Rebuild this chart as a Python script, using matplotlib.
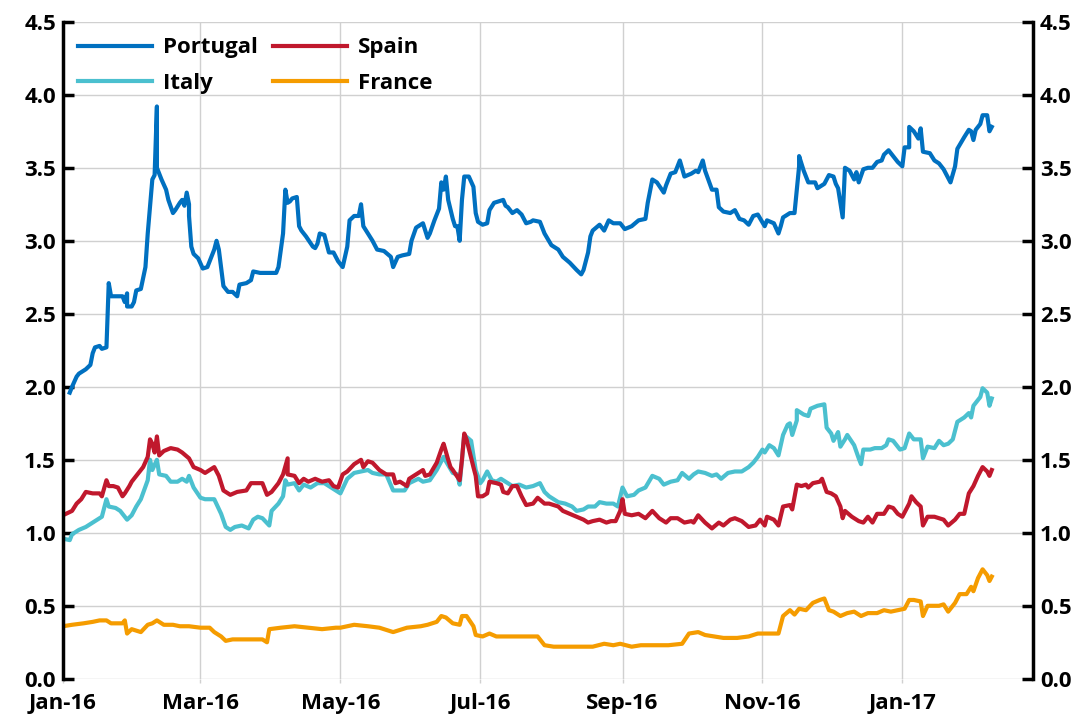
import numpy as np
import pandas as pd
import matplotlib
matplotlib.use("Agg")
import matplotlib.pyplot as plt
import matplotlib.dates as mdates

# 10-year spreads vs Germany (pp)
port_dates = ['2016-01-04', '2016-01-05', '2016-01-07', '2016-01-08', '2016-01-11', '2016-01-13', '2016-01-14',
              '2016-01-15', '2016-01-17', '2016-01-18', '2016-01-20', '2016-01-21', '2016-01-22', '2016-01-25',
              '2016-01-27', '2016-01-28', '2016-01-29', '2016-01-29', '2016-01-31', '2016-02-01', '2016-02-02',
              '2016-02-04', '2016-02-06', '2016-02-07', '2016-02-09', '2016-02-10', '2016-02-11', '2016-02-11',
              '2016-02-13', '2016-02-15', '2016-02-16', '2016-02-18', '2016-02-19', '2016-02-21', '2016-02-22',
              '2016-02-23', '2016-02-24', '2016-02-25', '2016-02-25', '2016-02-26', '2016-02-27', '2016-02-29',
              '2016-03-02', '2016-03-04', '2016-03-05', '2016-03-07', '2016-03-08', '2016-03-09', '2016-03-11',
              '2016-03-13', '2016-03-15', '2016-03-17', '2016-03-18', '2016-03-21', '2016-03-23', '2016-03-24',
              '2016-03-27', '2016-04-03', '2016-04-04', '2016-04-06', '2016-04-07', '2016-04-08', '2016-04-09',
              '2016-04-10', '2016-04-12', '2016-04-13', '2016-04-14', '2016-04-16', '2016-04-19', '2016-04-20',
              '2016-04-21', '2016-04-22', '2016-04-24', '2016-04-26', '2016-04-28', '2016-04-30', '2016-05-02',
              '2016-05-04', '2016-05-05', '2016-05-07', '2016-05-09', '2016-05-10', '2016-05-11', '2016-05-13',
              '2016-05-15', '2016-05-17', '2016-05-20', '2016-05-23', '2016-05-24', '2016-05-26', '2016-05-28',
              '2016-05-31', '2016-06-01', '2016-06-03', '2016-06-05', '2016-06-06', '2016-06-08', '2016-06-09',
              '2016-06-11', '2016-06-13', '2016-06-14', '2016-06-15', '2016-06-16', '2016-06-17', '2016-06-19',
              '2016-06-20', '2016-06-21', '2016-06-22', '2016-06-23', '2016-06-24', '2016-06-26', '2016-06-28',
              '2016-06-29', '2016-06-30', '2016-07-02', '2016-07-04', '2016-07-05', '2016-07-07', '2016-07-11',
              '2016-07-12', '2016-07-13', '2016-07-15', '2016-07-17', '2016-07-19', '2016-07-21', '2016-07-23',
              '2016-07-24', '2016-07-27', '2016-07-29', '2016-08-01', '2016-08-04', '2016-08-06', '2016-08-09',
              '2016-08-12', '2016-08-14', '2016-08-15', '2016-08-17', '2016-08-18', '2016-08-19', '2016-08-22',
              '2016-08-24', '2016-08-26', '2016-08-28', '2016-08-31', '2016-09-02', '2016-09-05', '2016-09-08',
              '2016-09-11', '2016-09-12', '2016-09-14', '2016-09-16', '2016-09-19', '2016-09-20', '2016-09-22',
              '2016-09-24', '2016-09-26', '2016-09-28', '2016-10-01', '2016-10-03', '2016-10-04', '2016-10-06',
              '2016-10-07', '2016-10-10', '2016-10-12', '2016-10-13', '2016-10-15', '2016-10-18', '2016-10-20',
              '2016-10-22', '2016-10-24', '2016-10-26', '2016-10-28', '2016-10-30', '2016-11-02', '2016-11-03',
              '2016-11-06', '2016-11-08', '2016-11-09', '2016-11-10', '2016-11-13', '2016-11-15', '2016-11-17',
              '2016-11-17', '2016-11-19', '2016-11-21', '2016-11-24', '2016-11-25', '2016-11-27', '2016-11-28',
              '2016-11-30', '2016-12-02', '2016-12-03', '2016-12-04', '2016-12-06', '2016-12-07', '2016-12-09',
              '2016-12-11', '2016-12-12', '2016-12-13', '2016-12-15', '2016-12-17', '2016-12-19', '2016-12-21',
              '2016-12-23', '2016-12-24', '2016-12-26', '2016-12-28', '2016-12-30', '2017-01-01', '2017-01-02',
              '2017-01-04', '2017-01-04', '2017-01-06', '2017-01-08', '2017-01-09', '2017-01-10', '2017-01-13',
              '2017-01-15', '2017-01-17', '2017-01-19', '2017-01-22', '2017-01-24', '2017-01-25', '2017-01-28',
              '2017-01-30', '2017-01-31', '2017-02-01', '2017-02-02', '2017-02-04', '2017-02-05', '2017-02-07',
              '2017-02-08', '2017-02-09']
port_vals = [1.96, 2.00, 2.07, 2.09, 2.12, 2.15, 2.23, 2.27, 2.28, 2.26, 2.27, 2.71, 2.62, 2.62, 2.62, 2.58, 2.64,
             2.55, 2.55, 2.58, 2.66, 2.67, 2.82, 3.05, 3.42, 3.45, 3.92, 3.50, 3.42, 3.35, 3.28, 3.19, 3.21, 3.26,
             3.28, 3.24, 3.33, 3.25, 3.17, 2.96, 2.91, 2.88, 2.81, 2.82, 2.86, 2.94, 3.00, 2.94, 2.69, 2.65, 2.65,
             2.62, 2.70, 2.71, 2.73, 2.79, 2.78, 2.78, 2.82, 3.05, 3.35, 3.26, 3.27, 3.29, 3.30, 3.10, 3.07, 3.03,
             2.96, 2.95, 2.98, 3.05, 3.04, 2.92, 2.92, 2.86, 2.82, 2.96, 3.14, 3.17, 3.17, 3.25, 3.10, 3.05, 3.00,
             2.94, 2.93, 2.89, 2.82, 2.89, 2.90, 2.91, 3.00, 3.09, 3.11, 3.12, 3.02, 3.05, 3.14, 3.22, 3.40, 3.35,
             3.44, 3.28, 3.15, 3.10, 3.10, 3.00, 3.28, 3.44, 3.44, 3.37, 3.19, 3.13, 3.11, 3.12, 3.21, 3.26, 3.28,
             3.24, 3.23, 3.19, 3.21, 3.18, 3.12, 3.13, 3.14, 3.13, 3.05, 2.97, 2.94, 2.89, 2.85, 2.80, 2.77, 2.80,
             2.92, 3.03, 3.07, 3.11, 3.07, 3.14, 3.12, 3.12, 3.08, 3.10, 3.14, 3.15, 3.26, 3.42, 3.40, 3.33, 3.38,
             3.46, 3.47, 3.55, 3.44, 3.46, 3.48, 3.47, 3.55, 3.48, 3.35, 3.35, 3.23, 3.20, 3.19, 3.21, 3.15, 3.14,
             3.11, 3.17, 3.18, 3.10, 3.14, 3.12, 3.05, 3.10, 3.16, 3.19, 3.19, 3.51, 3.58, 3.48, 3.40, 3.40, 3.36,
             3.38, 3.39, 3.45, 3.44, 3.39, 3.36, 3.16, 3.50, 3.48, 3.42, 3.47, 3.40, 3.49, 3.50, 3.50, 3.54, 3.55,
             3.59, 3.62, 3.58, 3.54, 3.51, 3.64, 3.64, 3.78, 3.75, 3.70, 3.77, 3.61, 3.60, 3.55, 3.53, 3.49, 3.40,
             3.51, 3.63, 3.71, 3.76, 3.75, 3.69, 3.76, 3.80, 3.86, 3.86, 3.75, 3.78]

spain_dates = ['2016-01-01', '2016-01-05', '2016-01-07', '2016-01-09', '2016-01-11', '2016-01-14', '2016-01-17',
               '2016-01-18', '2016-01-20', '2016-01-21', '2016-01-23', '2016-01-25', '2016-01-27', '2016-01-28',
               '2016-01-30', '2016-01-31', '2016-02-03', '2016-02-05', '2016-02-07', '2016-02-08', '2016-02-09',
               '2016-02-10', '2016-02-11', '2016-02-12', '2016-02-14', '2016-02-17', '2016-02-20', '2016-02-22',
               '2016-02-25', '2016-02-27', '2016-03-01', '2016-03-03', '2016-03-05', '2016-03-07', '2016-03-09',
               '2016-03-11', '2016-03-14', '2016-03-17', '2016-03-21', '2016-03-23', '2016-03-28', '2016-03-30',
               '2016-04-01', '2016-04-04', '2016-04-06', '2016-04-08', '2016-04-08', '2016-04-11', '2016-04-13',
               '2016-04-15', '2016-04-17', '2016-04-20', '2016-04-23', '2016-04-26', '2016-04-28', '2016-04-30',
               '2016-05-02', '2016-05-04', '2016-05-07', '2016-05-10', '2016-05-11', '2016-05-13', '2016-05-15',
               '2016-05-18', '2016-05-21', '2016-05-24', '2016-05-25', '2016-05-27', '2016-05-30', '2016-05-31',
               '2016-06-04', '2016-06-06', '2016-06-07', '2016-06-09', '2016-06-12', '2016-06-14', '2016-06-15',
               '2016-06-17', '2016-06-18', '2016-06-19', '2016-06-22', '2016-06-23', '2016-06-24', '2016-06-25',
               '2016-06-28', '2016-06-29', '2016-06-30', '2016-07-02', '2016-07-04', '2016-07-05', '2016-07-08',
               '2016-07-10', '2016-07-11', '2016-07-13', '2016-07-15', '2016-07-17', '2016-07-19', '2016-07-21',
               '2016-07-24', '2016-07-26', '2016-07-29', '2016-07-31', '2016-08-04', '2016-08-06', '2016-08-09',
               '2016-08-12', '2016-08-15', '2016-08-17', '2016-08-19', '2016-08-22', '2016-08-25', '2016-08-27',
               '2016-08-29', '2016-08-31', '2016-09-01', '2016-09-02', '2016-09-05', '2016-09-08', '2016-09-11',
               '2016-09-14', '2016-09-17', '2016-09-20', '2016-09-22', '2016-09-25', '2016-09-28', '2016-10-01',
               '2016-10-02', '2016-10-04', '2016-10-07', '2016-10-10', '2016-10-13', '2016-10-15', '2016-10-18',
               '2016-10-20', '2016-10-23', '2016-10-26', '2016-10-29', '2016-10-31', '2016-11-02', '2016-11-03',
               '2016-11-06', '2016-11-08', '2016-11-10', '2016-11-13', '2016-11-14', '2016-11-16', '2016-11-18',
               '2016-11-20', '2016-11-21', '2016-11-23', '2016-11-26', '2016-11-27', '2016-11-29', '2016-12-01',
               '2016-12-03', '2016-12-05', '2016-12-06', '2016-12-07', '2016-12-10', '2016-12-13', '2016-12-15',
               '2016-12-17', '2016-12-19', '2016-12-21', '2016-12-24', '2016-12-26', '2016-12-28', '2016-12-30',
               '2017-01-01', '2017-01-04', '2017-01-05', '2017-01-07', '2017-01-09', '2017-01-10', '2017-01-12',
               '2017-01-15', '2017-01-17', '2017-01-19', '2017-01-21', '2017-01-24', '2017-01-26', '2017-01-28',
               '2017-01-30', '2017-02-01', '2017-02-03', '2017-02-05', '2017-02-07', '2017-02-08', '2017-02-09']
spain_vals = [1.12, 1.15, 1.20, 1.23, 1.28, 1.27, 1.27, 1.25, 1.36, 1.32, 1.32, 1.31, 1.25, 1.27, 1.32, 1.35,
              1.41, 1.45, 1.52, 1.64, 1.61, 1.55, 1.66, 1.53, 1.56, 1.58, 1.57, 1.55, 1.51, 1.45, 1.43, 1.41,
              1.43, 1.45, 1.39, 1.29, 1.26, 1.28, 1.29, 1.34, 1.34, 1.26, 1.28, 1.34, 1.40, 1.51, 1.40, 1.39,
              1.34, 1.37, 1.35, 1.37, 1.35, 1.36, 1.32, 1.31, 1.40, 1.42, 1.47, 1.50, 1.45, 1.49, 1.48, 1.43,
              1.40, 1.40, 1.34, 1.35, 1.32, 1.37, 1.41, 1.43, 1.39, 1.40, 1.48, 1.57, 1.61, 1.50, 1.45, 1.43,
              1.36, 1.50, 1.68, 1.64, 1.45, 1.39, 1.25, 1.25, 1.27, 1.35, 1.34, 1.33, 1.28, 1.27, 1.32, 1.32,
              1.25, 1.19, 1.20, 1.24, 1.20, 1.20, 1.18, 1.15, 1.13, 1.11, 1.09, 1.07, 1.08, 1.09, 1.07, 1.08,
              1.08, 1.15, 1.23, 1.13, 1.12, 1.13, 1.10, 1.15, 1.10, 1.07, 1.10, 1.10, 1.07, 1.08, 1.07, 1.12,
              1.07, 1.03, 1.07, 1.05, 1.09, 1.10, 1.08, 1.04, 1.05, 1.09, 1.05, 1.11, 1.09, 1.05, 1.18, 1.19,
              1.16, 1.33, 1.32, 1.33, 1.31, 1.34, 1.35, 1.37, 1.28, 1.27, 1.25, 1.18, 1.10, 1.15, 1.11, 1.08,
              1.07, 1.11, 1.07, 1.13, 1.13, 1.18, 1.17, 1.13, 1.11, 1.20, 1.25, 1.21, 1.18, 1.05, 1.11, 1.11,
              1.10, 1.09, 1.05, 1.09, 1.13, 1.13, 1.27, 1.32, 1.39, 1.45, 1.42, 1.39, 1.43]

italy_dates = ['2016-01-01', '2016-01-04', '2016-01-05', '2016-01-08', '2016-01-11', '2016-01-14', '2016-01-16',
               '2016-01-17', '2016-01-18', '2016-01-20', '2016-01-21', '2016-01-24', '2016-01-26', '2016-01-28',
               '2016-01-29', '2016-01-31', '2016-02-02', '2016-02-04', '2016-02-07', '2016-02-08', '2016-02-09',
               '2016-02-11', '2016-02-12', '2016-02-15', '2016-02-17', '2016-02-20', '2016-02-22', '2016-02-24',
               '2016-02-25', '2016-02-27', '2016-03-01', '2016-03-03', '2016-03-07', '2016-03-10', '2016-03-12',
               '2016-03-14', '2016-03-16', '2016-03-19', '2016-03-22', '2016-03-24', '2016-03-26', '2016-03-28',
               '2016-03-31', '2016-04-01', '2016-04-04', '2016-04-06', '2016-04-07', '2016-04-08', '2016-04-11',
               '2016-04-13', '2016-04-15', '2016-04-18', '2016-04-21', '2016-04-24', '2016-04-27', '2016-05-01',
               '2016-05-04', '2016-05-07', '2016-05-10', '2016-05-13', '2016-05-15', '2016-05-18', '2016-05-21',
               '2016-05-24', '2016-05-26', '2016-05-29', '2016-05-31', '2016-06-04', '2016-06-06', '2016-06-09',
               '2016-06-12', '2016-06-15', '2016-06-16', '2016-06-19', '2016-06-21', '2016-06-22', '2016-06-24',
               '2016-06-27', '2016-06-29', '2016-07-01', '2016-07-02', '2016-07-04', '2016-07-06', '2016-07-08',
               '2016-07-10', '2016-07-13', '2016-07-15', '2016-07-18', '2016-07-21', '2016-07-24', '2016-07-27',
               '2016-07-29', '2016-07-31', '2016-08-04', '2016-08-07', '2016-08-10', '2016-08-12', '2016-08-15',
               '2016-08-17', '2016-08-20', '2016-08-22', '2016-08-25', '2016-08-28', '2016-08-30', '2016-09-01',
               '2016-09-03', '2016-09-06', '2016-09-08', '2016-09-11', '2016-09-14', '2016-09-17', '2016-09-19',
               '2016-09-22', '2016-09-25', '2016-09-27', '2016-09-30', '2016-10-02', '2016-10-04', '2016-10-07',
               '2016-10-10', '2016-10-12', '2016-10-14', '2016-10-17', '2016-10-20', '2016-10-23', '2016-10-26',
               '2016-10-28', '2016-10-30', '2016-11-01', '2016-11-02', '2016-11-04', '2016-11-06', '2016-11-08',
               '2016-11-10', '2016-11-12', '2016-11-13', '2016-11-14', '2016-11-16', '2016-11-16', '2016-11-19',
               '2016-11-21', '2016-11-22', '2016-11-25', '2016-11-28', '2016-11-29', '2016-12-01', '2016-12-02',
               '2016-12-04', '2016-12-05', '2016-12-07', '2016-12-08', '2016-12-11', '2016-12-13', '2016-12-14',
               '2016-12-15', '2016-12-18', '2016-12-20', '2016-12-23', '2016-12-25', '2016-12-26', '2016-12-28',
               '2016-12-31', '2017-01-02', '2017-01-04', '2017-01-06', '2017-01-09', '2017-01-10', '2017-01-12',
               '2017-01-15', '2017-01-17', '2017-01-19', '2017-01-21', '2017-01-23', '2017-01-25', '2017-01-28',
               '2017-01-30', '2017-01-31', '2017-02-01', '2017-02-04', '2017-02-05', '2017-02-07', '2017-02-08',
               '2017-02-09']
italy_vals = [0.96, 0.95, 0.99, 1.02, 1.04, 1.07, 1.09, 1.10, 1.11, 1.23, 1.18, 1.17, 1.15, 1.11, 1.09, 1.12,
              1.18, 1.23, 1.36, 1.50, 1.43, 1.50, 1.40, 1.39, 1.35, 1.35, 1.37, 1.35, 1.39, 1.31, 1.24, 1.23,
              1.23, 1.13, 1.04, 1.02, 1.04, 1.05, 1.03, 1.09, 1.11, 1.10, 1.05, 1.15, 1.20, 1.25, 1.36, 1.33,
              1.34, 1.29, 1.33, 1.31, 1.34, 1.34, 1.31, 1.27, 1.37, 1.41, 1.42, 1.43, 1.41, 1.40, 1.40, 1.29,
              1.29, 1.29, 1.34, 1.37, 1.35, 1.36, 1.43, 1.52, 1.49, 1.41, 1.40, 1.33, 1.67, 1.63, 1.43, 1.34,
              1.36, 1.42, 1.36, 1.35, 1.37, 1.34, 1.32, 1.33, 1.31, 1.32, 1.34, 1.28, 1.25, 1.21, 1.20, 1.18,
              1.15, 1.16, 1.18, 1.18, 1.21, 1.20, 1.20, 1.18, 1.31, 1.25, 1.26, 1.29, 1.31, 1.39, 1.37, 1.33,
              1.35, 1.36, 1.41, 1.37, 1.40, 1.42, 1.41, 1.39, 1.40, 1.37, 1.41, 1.42, 1.42, 1.45, 1.48, 1.52,
              1.57, 1.55, 1.60, 1.58, 1.53, 1.67, 1.74, 1.75, 1.67, 1.77, 1.84, 1.81, 1.80, 1.85, 1.87, 1.88,
              1.72, 1.68, 1.63, 1.69, 1.59, 1.64, 1.67, 1.60, 1.51, 1.47, 1.57, 1.57, 1.58, 1.58, 1.60, 1.64,
              1.63, 1.57, 1.58, 1.68, 1.64, 1.64, 1.51, 1.59, 1.58, 1.63, 1.60, 1.61, 1.64, 1.76, 1.79, 1.82,
              1.79, 1.87, 1.93, 1.99, 1.96, 1.87, 1.92]

france_dates = ['2016-01-01', '2016-01-05', '2016-01-10', '2016-01-14', '2016-01-17', '2016-01-20', '2016-01-22',
                '2016-01-27', '2016-01-28', '2016-01-29', '2016-01-31', '2016-02-04', '2016-02-07', '2016-02-09',
                '2016-02-11', '2016-02-14', '2016-02-18', '2016-02-21', '2016-02-25', '2016-03-01', '2016-03-05',
                '2016-03-07', '2016-03-10', '2016-03-12', '2016-03-15', '2016-03-21', '2016-03-28', '2016-03-30',
                '2016-03-31', '2016-04-05', '2016-04-11', '2016-04-17', '2016-04-23', '2016-04-29', '2016-05-01',
                '2016-05-07', '2016-05-13', '2016-05-18', '2016-05-24', '2016-05-30', '2016-06-05', '2016-06-08',
                '2016-06-12', '2016-06-14', '2016-06-16', '2016-06-19', '2016-06-22', '2016-06-23', '2016-06-25',
                '2016-06-28', '2016-06-29', '2016-07-02', '2016-07-05', '2016-07-08', '2016-07-13', '2016-07-17',
                '2016-07-21', '2016-07-26', '2016-07-29', '2016-08-02', '2016-08-08', '2016-08-14', '2016-08-19',
                '2016-08-24', '2016-08-28', '2016-08-31', '2016-09-05', '2016-09-09', '2016-09-15', '2016-09-21',
                '2016-09-27', '2016-09-30', '2016-10-04', '2016-10-07', '2016-10-11', '2016-10-15', '2016-10-21',
                '2016-10-26', '2016-10-30', '2016-11-03', '2016-11-08', '2016-11-10', '2016-11-13', '2016-11-15',
                '2016-11-17', '2016-11-20', '2016-11-23', '2016-11-26', '2016-11-28', '2016-11-30', '2016-12-02',
                '2016-12-05', '2016-12-08', '2016-12-11', '2016-12-14', '2016-12-17', '2016-12-21', '2016-12-24',
                '2016-12-27', '2016-12-30', '2017-01-02', '2017-01-04', '2017-01-06', '2017-01-09', '2017-01-10',
                '2017-01-12', '2017-01-17', '2017-01-19', '2017-01-21', '2017-01-24', '2017-01-26', '2017-01-29',
                '2017-01-31', '2017-02-01', '2017-02-03', '2017-02-05', '2017-02-07', '2017-02-08', '2017-02-09']
france_vals = [0.36, 0.37, 0.38, 0.39, 0.40, 0.40, 0.38, 0.38, 0.40, 0.31, 0.34, 0.32, 0.37, 0.38, 0.40, 0.37,
               0.37, 0.36, 0.36, 0.35, 0.35, 0.32, 0.29, 0.26, 0.27, 0.27, 0.27, 0.25, 0.34, 0.35, 0.36, 0.35,
               0.34, 0.35, 0.35, 0.37, 0.36, 0.35, 0.32, 0.35, 0.36, 0.37, 0.39, 0.43, 0.42, 0.38, 0.37, 0.43,
               0.43, 0.36, 0.30, 0.29, 0.31, 0.29, 0.29, 0.29, 0.29, 0.29, 0.23, 0.22, 0.22, 0.22, 0.22, 0.24,
               0.23, 0.24, 0.22, 0.23, 0.23, 0.23, 0.24, 0.31, 0.32, 0.30, 0.29, 0.28, 0.28, 0.29, 0.31, 0.31,
               0.31, 0.43, 0.47, 0.44, 0.48, 0.47, 0.52, 0.54, 0.55, 0.47, 0.46, 0.43, 0.45, 0.46, 0.43, 0.45,
               0.45, 0.47, 0.46, 0.47, 0.48, 0.54, 0.54, 0.53, 0.43, 0.50, 0.50, 0.51, 0.46, 0.52, 0.58, 0.58,
               0.63, 0.60, 0.69, 0.75, 0.71, 0.67, 0.70]

yticks = [0.0, 0.5, 1.0, 1.5, 2.0, 2.5, 3.0, 3.5, 4.0, 4.5]

plt.rcParams['font.family'] = ['Open Sans', 'DejaVu Sans']
plt.rcParams['font.weight'] = 'bold'

fig = plt.figure(figsize=(10.84, 7.26), dpi=100)
ax = fig.add_axes([0.058, 0.065, 0.895, 0.905])

ax.plot(pd.to_datetime(port_dates), port_vals, color='#0070C0', lw=3.0, label='Portugal')
ax.plot(pd.to_datetime(italy_dates), italy_vals, color='#4BC0CF', lw=3.0, label='Italy')
ax.plot(pd.to_datetime(spain_dates), spain_vals, color='#C0182D', lw=3.0, label='Spain')
ax.plot(pd.to_datetime(france_dates), france_vals, color='#F59C00', lw=3.0, label='France')

ax.set_xlim(pd.Timestamp('2016-01-01'), pd.Timestamp('2017-02-27'))
ax.set_ylim(0, 4.5)
ax.set_yticks(yticks)
ax.yaxis.set_major_formatter(matplotlib.ticker.FormatStrFormatter('%.1f'))
ax.xaxis.set_major_locator(mdates.MonthLocator(bymonth=[1, 3, 5, 7, 9, 11]))
ax.xaxis.set_major_formatter(mdates.DateFormatter('%b-%y'))

ax.grid(True, color='#d0d0d0', lw=1.0)
ax.set_axisbelow(True)
for s in ['top', 'bottom']:
    ax.spines[s].set_visible(False)
for s in ['left', 'right']:
    ax.spines[s].set_linewidth(2.5)
    ax.spines[s].set_color('black')

ax.tick_params(axis='y', direction='in', length=8, width=2.5, labelsize=16, pad=5,
               left=True, right=True, labelleft=True, labelright=True)
ax.tick_params(axis='x', length=3, width=1, color='#d0d0d0', labelsize=16, pad=7)
for lab in ax.get_xticklabels() + ax.get_yticklabels():
    lab.set_fontweight('bold')

leg = ax.legend(ncol=2, loc='upper left', bbox_to_anchor=(0.0, 1.0), frameon=False, fontsize=16,
                handlelength=3.3, handletextpad=0.5, columnspacing=0.7, labelspacing=0.65,
                borderaxespad=0.3)
for t in leg.get_texts():
    t.set_fontweight('bold')

fig.savefig('out.png', dpi=100)
